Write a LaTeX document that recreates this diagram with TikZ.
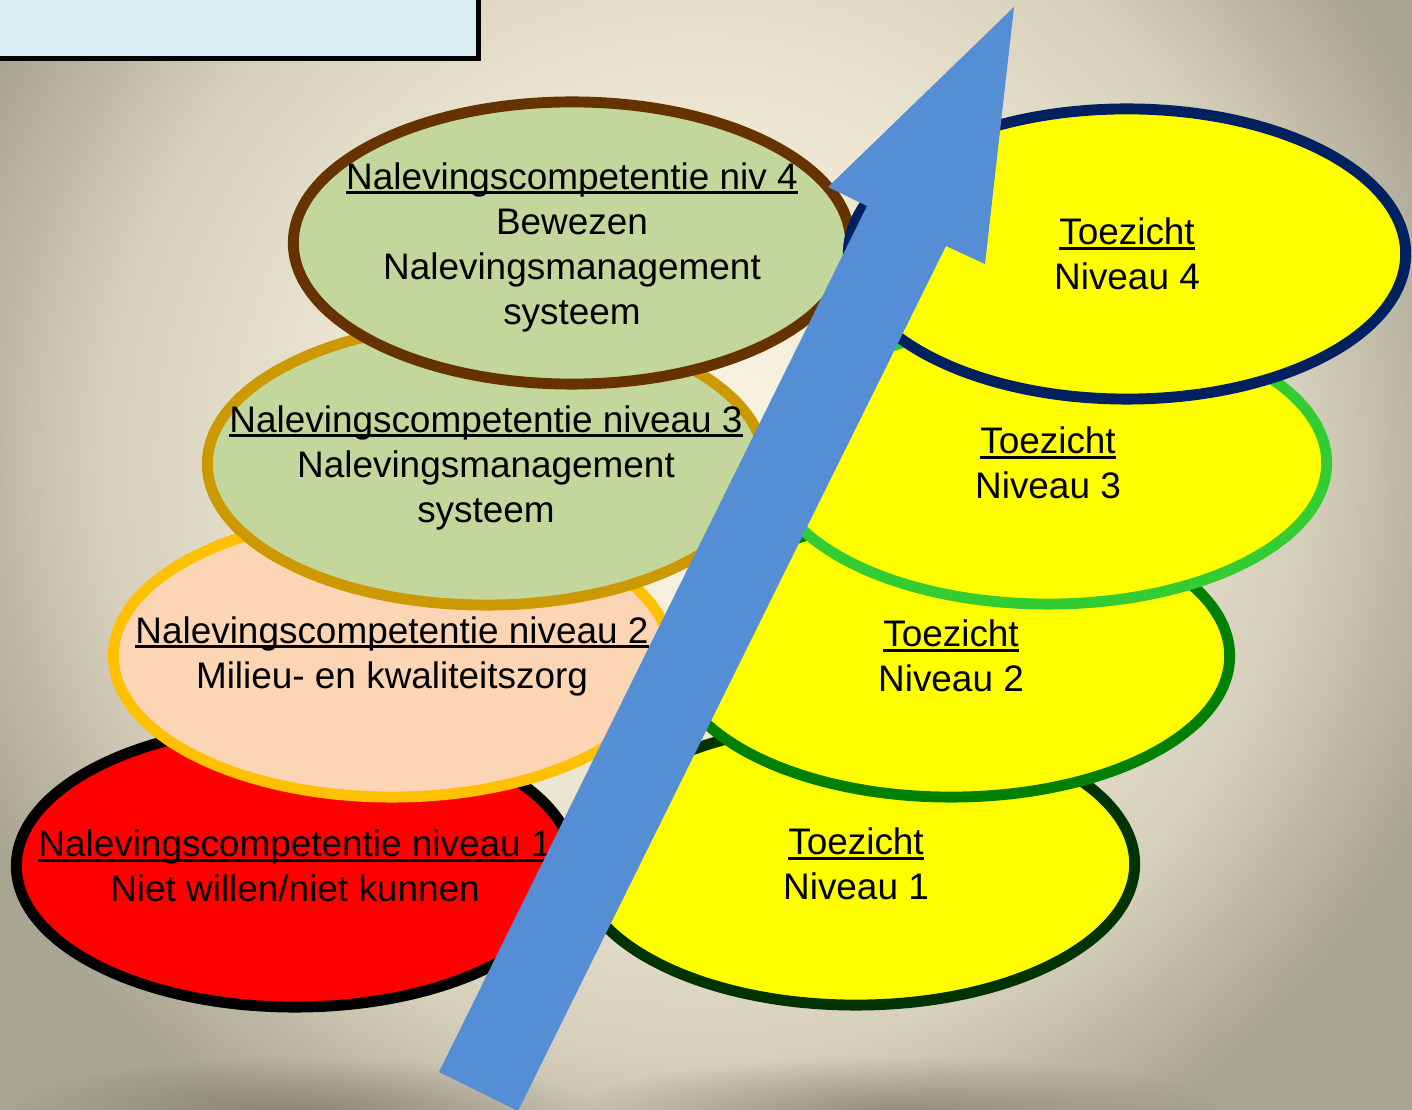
\documentclass[tikz,border=0pt]{standalone}
\usepackage{fontspec}
\setmainfont{Liberation Sans}
\usetikzlibrary{shapes.geometric}
\usetikzlibrary{fadings}

\definecolor{bgA}{HTML}{FBF5E4}
\definecolor{bgB}{HTML}{EBE4D0}
\definecolor{bgC}{HTML}{D6CFBB}
\definecolor{bgD}{HTML}{BDB8A5}
\definecolor{bgE}{HTML}{A9A593}
\definecolor{boxblue}{HTML}{DAEEF3}
\definecolor{arrowblue}{HTML}{558ED5}
\definecolor{toezyellow}{RGB}{255,255,0}
\definecolor{alarmred}{RGB}{255,0,0}
\definecolor{peach}{HTML}{FCD5B5}
\definecolor{olivegreen}{HTML}{C3D69B}
\definecolor{gold}{HTML}{FFC000}
\definecolor{darkgold}{HTML}{CC9900}
\definecolor{brown}{HTML}{663300}
\definecolor{navy}{HTML}{002060}
\definecolor{lime}{HTML}{33CC33}
\definecolor{midgreen}{HTML}{008000}
\definecolor{deepgreen}{HTML}{003300}
\definecolor{shadowgrey}{HTML}{777262}

\pgfdeclareradialshading{bgglow}{\pgfpoint{0bp}{0bp}}{color(0bp)=(bgA); color(9.5bp)=(bgB); color(15bp)=(bgC); color(17.75bp)=(bgD); color(20bp)=(bgE); color(50bp)=(bgE)}
\tikzfading[name=softblob, inner color=transparent!35, outer color=transparent!100]

\newcommand{\ulined}[1]{\setbox0=\hbox{#1}\rlap{\rule[-1.5pt]{\wd0}{0.9pt}}\box0}

\begin{document}
\begin{tikzpicture}[x=0.01cm, y=-0.01cm,
                levelnode/.style={ellipse, draw, line width=3.1pt, inner sep=0pt, minimum width=5.57cm, minimum height=2.82cm},
                toezichtnode/.style={levelnode, fill=toezyellow},
                labeltext/.style={align=center, inner sep=0pt, font=\fontsize{10.5}{12.8}\selectfont},
            ]
            \useasboundingbox (0,0) rectangle (1412,1110);

            % Background
            \fill[bgE] (0,0) rectangle (1412,1110);
            \begin{scope}
                \clip (0,0) rectangle (1412,1110);
                \shade[shading=bgglow] (700,460) circle (1000);
                \fill[shadowgrey, path fading=softblob] (300,1112) ellipse [x radius=300, y radius=55];
                \fill[shadowgrey, path fading=softblob] (900,1112) ellipse [x radius=330, y radius=55];
                \draw[line width=1.28pt, fill=boxblue] (-30,-30) rectangle (478.5,58.5);
            \end{scope}

            % Nodes
            \node[levelnode, fill=alarmred, draw=black]       (niv_1)   at (295,866)  {};
            \node[labeltext]      (txt_niv_1)   at (niv_1.center)   {\ulined{Nalevingscompetentie niveau 1}\\Niet willen/niet kunnen};
            \node[levelnode, fill=peach, draw=gold]           (niv_2)   at (392,656)  {};
            \node[labeltext]      (txt_niv_2)   at (niv_2.center)   {\ulined{Nalevingscompetentie niveau 2}\\Milieu- en kwaliteitszorg};
            \node[levelnode, fill=olivegreen, draw=darkgold]  (niv_3)   at (486,464)  {};
            \node[labeltext]      (txt_niv_3)   at ([yshift=-0.35mm]niv_3.center)   {\ulined{Nalevingscompetentie niveau 3}\\Nalevingsmanagement\\systeem};
            \node[levelnode, fill=olivegreen, draw=brown]     (niv_4)   at (572,243)  {};
            \node[labeltext]      (txt_niv_4)   at ([yshift=-0.4mm]niv_4.center)   {\ulined{Nalevingscompetentie niv 4}\\Bewezen\\Nalevingsmanagement\\systeem};

            \node[toezichtnode, draw=deepgreen]  (toez_1)  at (856,864)   {};
            \node[labeltext]      (txt_toez_1)  at (toez_1.center)  {\ulined{Toezicht}\\Niveau 1};
            \node[toezichtnode, draw=midgreen]   (toez_2)  at (951,656)   {};
            \node[labeltext]      (txt_toez_2)  at (toez_2.center)  {\ulined{Toezicht}\\Niveau 2};
            \node[toezichtnode, draw=lime]       (toez_3)  at (1048,463)  {};
            \node[labeltext]      (txt_toez_3)  at (toez_3.center)  {\ulined{Toezicht}\\Niveau 3};
            \node[toezichtnode, draw=navy, minimum height=2.9cm]  (toez_4)  at (1127,254)  {};
            \node[labeltext]      (txt_toez_4)  at (toez_4.center)  {\ulined{Toezicht}\\Niveau 4};

            % Arrow
            \fill[arrowblue] (439,1072) -- (867,206) -- (828,187) -- (1014,7) -- (985,264) -- (946,246) -- (518,1111) -- cycle;
        \end{tikzpicture}
\end{document}
